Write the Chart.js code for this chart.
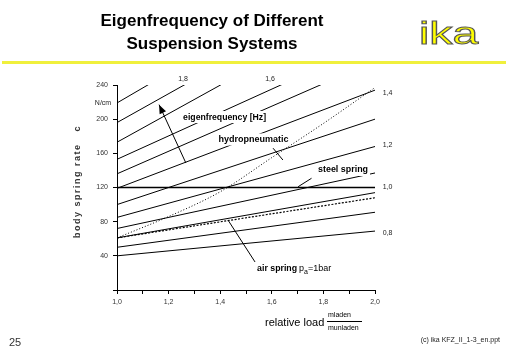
<!DOCTYPE html>
<html><head><meta charset="utf-8">
<script src="https://cdn.jsdelivr.net/npm/chart.js@4/dist/chart.umd.min.js"></script>
<style>
html,body{margin:0;padding:0;background:#fff;}
#wrap{position:relative;width:512px;height:354px;overflow:hidden;font-family:"Liberation Sans",Arial,sans-serif;color:#000;}
canvas{position:absolute;left:0;top:0;}
.t{position:absolute;white-space:nowrap;}
</style></head><body>
<div id="wrap">
<canvas id="c" width="512" height="354"></canvas>
<div class="t" style="left:0;width:424px;top:9px;text-align:center;font-weight:bold;font-size:17px;line-height:23px;">Eigenfrequency of Different<br>Suspension Systems</div>
<div class="t" style="left:419px;top:15px;font-size:32px;color:#ffff00;-webkit-text-stroke:1px #555;transform:scaleX(1.45);transform-origin:left top;">ika</div>
<div style="position:absolute;left:2px;top:61px;width:504px;height:3px;background:#f0f03c;"></div>
<div class="t" style="left:265px;top:316px;font-size:11px;">relative load</div>
<div class="t" style="left:328px;top:311px;font-size:7px;">mladen</div>
<div style="position:absolute;left:327px;top:321px;width:35px;height:1px;background:#000;"></div>
<div class="t" style="left:328px;top:324px;font-size:7px;">munladen</div>
<div class="t" style="left:9px;top:336px;font-size:11px;color:#333;">25</div>
<div class="t" style="right:12px;top:336px;font-size:7px;color:#222;">(c) ika KFZ_II_1-3_en.ppt</div>
</div>
<script>
// ---- data ----
const loadRange = [1.0, 2.0];
const freqHz = [0.8, 0.9, 1.0, 1.1, 1.2, 1.3, 1.4, 1.5, 1.6, 1.7, 1.8, 1.9];
const rateUnladen = [40, 50, 61, 72, 85, 100, 119, 136, 153, 173, 196, 219];
const rateLaden   = [69, 91, 114, 137, 168, 200, 234, 268, 290, 340, 365, 395];
const steelSpringRate = [120, 120];
const airSpringRate = [61, 108];
const hydroLoad = [1.0, 1.2, 1.4, 1.6, 1.8, 2.0];
const hydroRate = [61, 86, 115, 155, 195, 237];
const yTickValues = [40, 80, 120, 160, 200, 240];
const labeledFreqs = [0.8, 1.0, 1.2, 1.4, 1.6, 1.8];

const fmt = v => v.toFixed(1).replace('.', ',');

const datasets = freqHz.map((f, i) => ({
  label: fmt(f) + ' Hz',
  data: [{x: loadRange[0], y: rateUnladen[i]}, {x: loadRange[1], y: rateLaden[i]}],
  borderColor: '#000', borderWidth: 1, pointRadius: 0
}));
datasets.push({label: 'steel spring', data: loadRange.map((x, i) => ({x, y: steelSpringRate[i]})),
  borderColor: '#000', borderWidth: 1.4, pointRadius: 0});
datasets.push({label: 'air spring', data: loadRange.map((x, i) => ({x, y: airSpringRate[i]})),
  borderColor: '#000', borderWidth: 1.2, borderDash: [2, 1.5], pointRadius: 0});
datasets.push({label: 'hydropneumatic', data: hydroLoad.map((x, i) => ({x, y: hydroRate[i]})),
  borderColor: '#000', borderWidth: 1, borderDash: [1, 2], pointRadius: 0, cubicInterpolationMode: 'monotone'});

const annot = {
  id: 'annot',
  afterDatasetsDraw(chart) {
    const ctx = chart.ctx, xs = chart.scales.x, ys = chart.scales.y;
    const X = v => xs.getPixelForValue(v), Y = v => ys.getPixelForValue(v);
    ctx.save();
    ctx.fillStyle = '#000'; ctx.strokeStyle = '#000';
    function boxText(txt, cx, cy, w, font) {
      ctx.font = font;
      ctx.fillStyle = '#fff';
      ctx.fillRect(cx - w / 2 - 2, cy - 6, w + 4, 12);
      ctx.fillStyle = '#000';
      ctx.textAlign = 'center'; ctx.textBaseline = 'middle';
      ctx.fillText(txt, cx, cy, w);
    }
    function line(x1, y1, x2, y2, w) {
      ctx.lineWidth = w || 1; ctx.beginPath();
      ctx.moveTo(X(x1), Y(y1)); ctx.lineTo(X(x2), Y(y2)); ctx.stroke();
    }
    boxText('eigenfrequency [Hz]', X(1.417), Y(202.5), 83, 'bold 9px "Liberation Sans"');
    boxText('hydropneumatic', X(1.529), Y(176.2), 71, 'bold 9px "Liberation Sans"');
    boxText('steel spring', X(1.876), Y(140.5), 50, 'bold 9px "Liberation Sans"');
    ctx.font = 'bold 9px "Liberation Sans"';
    ctx.fillStyle = '#fff'; ctx.fillRect(X(1.543) - 2, Y(24.6) - 7, 84, 14);
    ctx.fillStyle = '#000'; ctx.textAlign = 'left'; ctx.textBaseline = 'middle';
    ctx.fillText('air spring', X(1.543), Y(24.6), 40);
    let px = X(1.543) + 42;
    ctx.font = '9px "Liberation Sans"';
    ctx.fillText('p', px, Y(24.6));
    px += ctx.measureText('p').width;
    ctx.font = '7px "Liberation Sans"';
    ctx.fillText('a', px, Y(24.6) + 3);
    px += ctx.measureText('a').width;
    ctx.font = '9px "Liberation Sans"';
    ctx.fillText('=1bar', px, Y(24.6));
    line(1.605, 166, 1.643, 152.2);
    line(1.754, 130.8, 1.702, 120.9);
    line(1.430, 82, 1.535, 32.8);
    const ax1 = X(1.267), ay1 = Y(148.7), ax2 = X(1.163), ay2 = Y(217);
    ctx.lineWidth = 1; ctx.beginPath(); ctx.moveTo(ax1, ay1); ctx.lineTo(ax2, ay2); ctx.stroke();
    const ang = Math.atan2(ay2 - ay1, ax2 - ax1), hl = 9, hw = 3.5;
    ctx.beginPath();
    ctx.moveTo(ax2, ay2);
    ctx.lineTo(ax2 - hl * Math.cos(ang) + hw * Math.sin(ang), ay2 - hl * Math.sin(ang) - hw * Math.cos(ang));
    ctx.lineTo(ax2 - hl * Math.cos(ang) - hw * Math.sin(ang), ay2 - hl * Math.sin(ang) + hw * Math.cos(ang));
    ctx.closePath(); ctx.fill();
    ctx.font = '7px "Liberation Sans"'; ctx.fillStyle = '#222';
    ctx.textAlign = 'left'; ctx.textBaseline = 'middle';
    const rightPos = {0.8: 66.7, 1.0: 120.6, 1.2: 169.7, 1.4: 230.6};
    const topPos = {1.6: 1.593, 1.8: 1.256};
    labeledFreqs.forEach(f => {
      if (rightPos[f] !== undefined) ctx.fillText(fmt(f), X(2.03), Y(rightPos[f]));
      else { ctx.textAlign = 'center'; ctx.fillText(fmt(f), X(topPos[f]), Y(240) - 6); ctx.textAlign = 'left'; }
    });
    ctx.textAlign = 'center';
    ctx.fillText('N/cm', xs.left - 14, Y(219));
    ctx.save();
    ctx.translate(78, Y(127));
    ctx.rotate(-Math.PI / 2);
    ctx.font = 'bold 9px "Liberation Sans"'; ctx.fillStyle = '#333';
    try { ctx.letterSpacing = '1.5px'; } catch (e) {}
    ctx.fillText('body spring rate   c', 0, 0, 118);
    ctx.restore();
    ctx.restore();
  }
};

new Chart(document.getElementById('c'), {
  type: 'line',
  data: {datasets},
  options: {
    responsive: false, animation: false, devicePixelRatio: 1,
    layout: {padding: {left: 80, right: 137, top: 85, bottom: 44}},
    plugins: {legend: {display: false}, tooltip: {enabled: false}},
    scales: {
      x: {type: 'linear', min: loadRange[0], max: loadRange[1],
        afterFit: s => { s.height = 20; },
        grid: {drawOnChartArea: false, tickLength: 4, color: '#000'},
        border: {color: '#000', width: 1},
        ticks: {stepSize: 0.1, autoSkip: false, maxRotation: 0, padding: 4, color: '#333',
          font: {size: 7, family: 'Liberation Sans'},
          callback: v => { const k = Math.round(v * 10); return k % 2 === 0 ? fmt(k / 10) : ''; }}},
      y: {min: 0, max: 240,
        afterFit: s => { s.width = 37; },
        afterBuildTicks: s => { s.ticks = [0].concat(yTickValues).map(v => ({value: v})); },
        grid: {drawOnChartArea: false, tickLength: 4, color: '#000'},
        border: {color: '#000', width: 1},
        ticks: {padding: 5, color: '#333', font: {size: 7, family: 'Liberation Sans'},
          callback: v => v === 0 ? '' : String(v)}}
    }
  },
  plugins: [annot]
});
</script>
</body></html>
